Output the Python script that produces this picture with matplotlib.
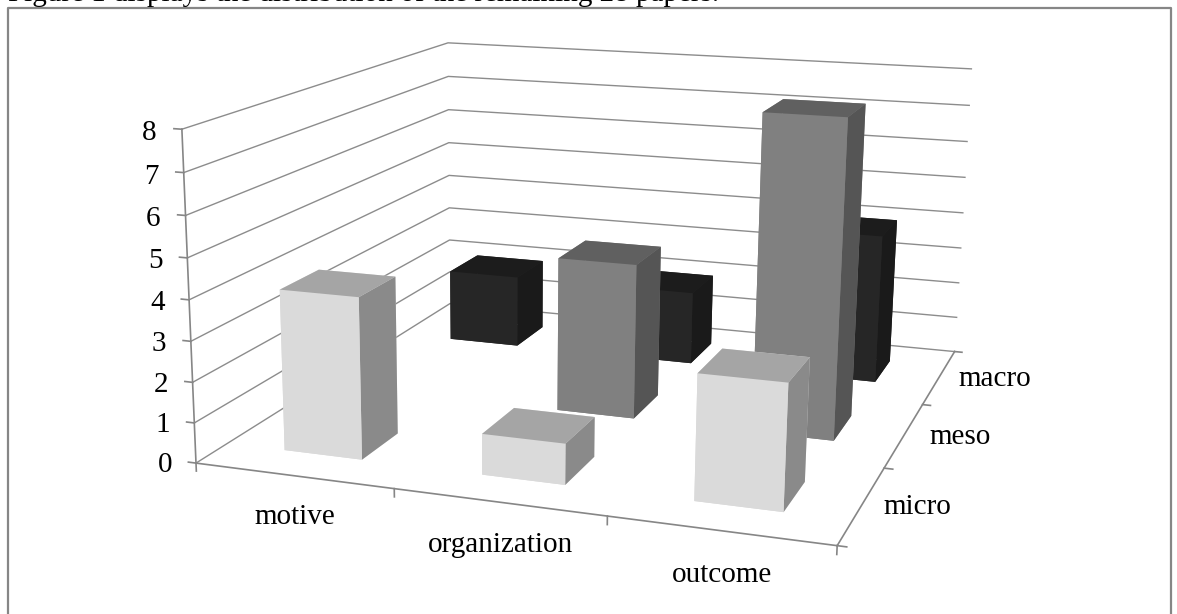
# Excel style 3D column chart, camera fitted to the corners of the plot box
import numpy as np
import matplotlib
matplotlib.use("Agg")
import matplotlib.pyplot as plt
from matplotlib.lines import Line2D

categories = ["motive", "organization", "outcome"]
series_names = ["micro", "meso", "macro"]
micro_values = [4, 1, 3]
meso_values = [0, 4, 8]
macro_values = [2, 2, 4]
z_ticks = [0, 1, 2, 3, 4, 5, 6, 7, 8]

W, H = 1177, 614
plt.rcParams['font.family'] = ['Liberation Serif', 'DejaVu Serif']

fig = plt.figure(figsize=(W/100, H/100), dpi=100, facecolor='white')
ax = fig.add_axes([0, 0, 1, 1], projection='3d')
ax.set_axis_off()
ax.patch.set_alpha(0)
ax.set_proj_type('ortho')
# keep the axes on the whole figure, Axes3D would shrink it to a square
ax.apply_aspect = lambda position=None: None

# box corners in data units and where they sit in the picture
box_pts = [(0,0,0), (3,0,0), (3,3,0), (0,3,0), (0,0,8), (0,3,8), (3,3,8), (0,3,4), (3,3,4)]
pix_pts = [(197,463), (837,546), (955,351), (449,304), (181,129), (449,43), (971,69), (449,175), (963,213)]

A = []
b = []
for (x, y, z), (u, v) in zip(box_pts, pix_pts):
    v = H - v
    A.append([x, y, z, 1, 0, 0, 0, 0, -u*x, -u*y, -u*z])
    b.append(u)
    A.append([0, 0, 0, 0, x, y, z, 1, -v*x, -v*y, -v*z])
    b.append(v)
p = np.linalg.lstsq(np.array(A, float), np.array(b, float), rcond=None)[0]
P = np.append(p, 1.0).reshape(3, 4)


def fitted_proj():
    # display pixels -> the axes' own 2D coordinates
    T = ax.transData.inverted().get_matrix()
    Q = T @ P
    M = np.zeros((4, 4))
    M[0] = Q[0]
    M[1] = Q[1]
    M[2] = [-1.0, 2.0, -1.0, 0.0]   # depth only used for face sorting
    M[3] = Q[2]
    return M


ax.get_proj = fitted_proj


def label(x, y, z, s):
    # labels go on the figure, at the spot the camera gives for that data point
    u, v, w = P @ [x, y, z, 1]
    fig.text(u/w/W, v/w/H, s, ha='center', va='center', fontsize=21, color='black')


grid_c = '#8c8c8c'
axis_c = '#868686'

# gridlines on left and back walls
for z in z_ticks:
    ax.plot([0, 0, 3], [0, 3, 3], [z, z, z], color=grid_c, lw=1.0, zorder=1)
    ax.plot([-0.04, 0], [0, 0], [z, z], color=axis_c, lw=1.2, zorder=1)
    label(-0.165, 0, z - 0.15, str(z))

# axis lines
ax.plot([0, 0], [0, 0], [0, 8], color=axis_c, lw=1.2, zorder=2)
ax.plot([0, 3], [0, 0], [0, 0], color=axis_c, lw=1.2, zorder=2)
ax.plot([3, 3], [0, 3], [0, 0], color=axis_c, lw=1.2, zorder=2)
for i in range(4):
    ax.plot([i, i], [0, 0], [0, -0.2], color=axis_c, lw=1.2, zorder=2)
    ax.plot([3, 3.04], [i, i], [0, 0], color=axis_c, lw=1.2, zorder=2)

for i, name in enumerate(categories):
    label(0.745 + 0.945*i, -0.46, 0, name)
for i, name in enumerate(series_names):
    label(3.24 + 0.025*i, i + 0.5, 0.1, name)

# faces: bottom, top, front, back, left, right
micro_faces = ['#dadada', '#a5a5a5', '#dadada', '#dadada', '#dadada', '#8a8a8a']
meso_faces = ['#808080', '#606060', '#808080', '#808080', '#808080', '#555555']
macro_faces = ['#262626', '#1c1c1c', '#262626', '#262626', '#262626', '#1a1a1a']

bar_w = 0.4
bar_d = 0.4
rows = [(2, macro_values, macro_faces), (1, meso_values, meso_faces), (0, micro_values, micro_faces)]
order = 3
for row, vals, faces in rows:
    for i, val in enumerate(vals):
        if val == 0:
            continue
        poly = ax.bar3d(i + 0.3, row + 0.3, 0, bar_w, bar_d, val, color=faces, shade=False)
        poly.set_zorder(order)
        order += 1
ax.computed_zorder = False

# frame of the chart, runs off the bottom of the crop
frame_c = '#868686'
fig.add_artist(Line2D([8/W, 8/W, 1171/W, 1171/W], [0, 1-8/H, 1-8/H, 0], color=frame_c, lw=1.6))

fig.text(8/W, 1-1/H, "Figure 1 displays the distribution of the remaining 28 papers.",
         ha='left', va='baseline', fontsize=21, color='black')

fig.savefig("out.png", dpi=100)
